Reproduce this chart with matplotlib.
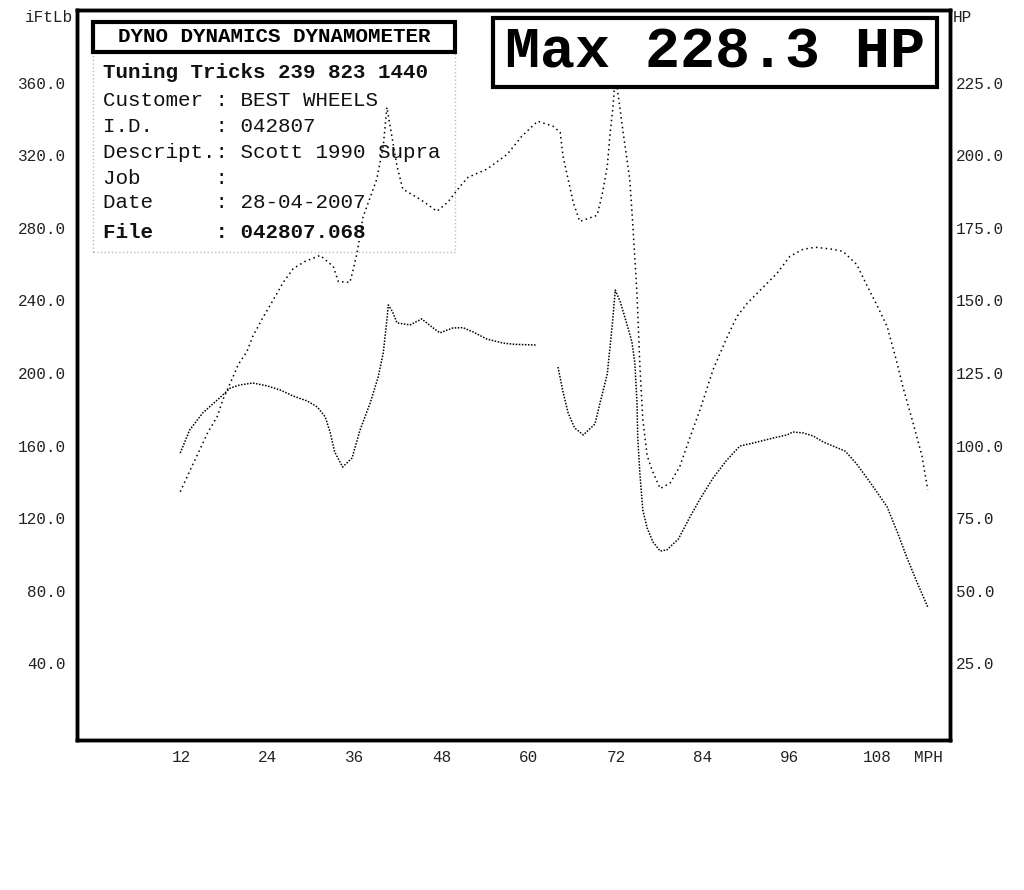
import numpy as np
import matplotlib
matplotlib.use("Agg")
import matplotlib.pyplot as plt
from matplotlib.patches import Rectangle

# ---- data ----
# torque curve (left axis, lb-ft); NaN marks the gap in the trace
torque_mph = [11.9, 13.2, 15.0, 17.0, 18.8, 20.1, 21.9, 23.9, 25.7, 27.5, 29.4, 30.8,
              31.9, 32.6, 33.2, 34.3, 35.6, 36.7, 38.1, 39.2, 39.9, 40.4, 40.6, 41.2,
              41.8, 43.6, 45.2, 46.6, 47.7, 49.5, 50.9, 52.3, 54.2, 56.4, 58.0, 61.1,
              62.5,
              64.0, 64.7, 65.4, 66.3, 67.5, 69.1, 69.8, 70.8, 71.5, 71.9, 72.6, 73.5,
              74.2, 74.6, 74.9, 75.0, 75.3, 75.7, 76.3, 77.1, 78.1, 79.0, 80.6, 82.2,
              83.6, 85.4, 87.3, 89.1, 90.9, 93.7, 95.6, 96.4, 97.8, 99.2, 100.6, 101.9,
              103.6, 105.2, 106.6, 108.0, 109.4, 110.8, 112.1, 113.5, 115.0]
torque_lbft = [155.9, 168.6, 178.0, 185.1, 191.7, 193.4, 194.5, 192.9, 190.6, 187.3, 184.6, 181.3,
               175.8, 167.0, 156.5, 148.2, 153.2, 168.6, 183.5, 197.8, 211.0, 229.2, 237.5, 233.6,
               227.6, 226.5, 229.8, 225.4, 222.1, 224.8, 225.0, 222.6, 218.7, 216.5, 215.8, 215.4,
               np.nan,
               203.3, 189.5, 178.0, 169.7, 165.9, 171.9, 183.5, 199.5, 227.0, 245.7, 239.1, 227.0,
               217.1, 205.5, 183.5, 164.2, 144.4, 124.5, 114.6, 106.9, 101.9, 102.5, 108.5, 120.7,
               130.6, 142.2, 152.1, 159.8, 161.4, 164.2, 165.9, 167.5, 167.0, 165.3, 162.0, 159.8,
               157.0, 149.9, 142.2, 134.4, 126.2, 112.4, 98.6, 84.9, 71.1]

# power curve (right axis, HP)
hp_mph = [11.9, 13.5, 14.6, 15.7, 17.0, 17.8, 19.2, 19.9, 21.1, 21.9, 23.3, 24.6,
          26.1, 27.5, 29.1, 31.2, 33.0, 33.7, 35.3, 35.7, 36.3, 37.1, 39.0, 39.9,
          40.4, 41.8, 42.6, 45.0, 47.3, 48.8, 50.5, 51.6, 54.2, 57.0, 59.0, 61.2,
          63.3, 64.3, 64.7, 65.4, 66.1, 67.0, 69.4, 70.1, 70.8, 71.2, 71.6, 71.9,
          73.0, 73.9, 74.3, 74.9, 75.3, 75.7, 76.3, 77.0, 78.1, 79.5, 80.8, 82.2,
          83.6, 85.4, 87.3, 88.7, 90.1, 94.2, 96.0, 97.8, 99.5, 101.9, 103.3, 105.2,
          106.6, 108.0, 109.4, 110.5, 111.6, 113.0, 114.2, 115.0]
hp_val = [84.1, 92.8, 98.6, 104.5, 110.0, 115.9, 123.8, 127.9, 132.4, 137.6, 144.1, 149.6,
          156.2, 161.0, 163.4, 165.5, 161.7, 156.5, 156.2, 160.0, 166.5, 178.6, 191.7, 203.1,
          216.5, 196.2, 188.3, 184.8, 180.7, 183.8, 189.3, 192.4, 195.2, 200.3, 206.5, 211.7,
          210.0, 207.9, 199.6, 191.7, 183.8, 177.2, 179.3, 186.5, 196.2, 207.9, 216.9, 228.3,
          207.6, 191.7, 176.9, 152.1, 127.2, 109.0, 96.5, 91.4, 85.2, 87.2, 92.8, 102.8,
          112.4, 126.2, 137.2, 144.5, 149.0, 159.3, 165.2, 167.6, 168.3, 167.6, 166.9, 162.4,
          155.2, 148.3, 141.0, 131.0, 120.0, 107.6, 96.5, 84.8]

mph_ticks = [12, 24, 36, 48, 60, 72, 84, 96, 108]
lbft_ticks = [40, 80, 120, 160, 200, 240, 280, 320, 360]
hp_ticks = [25, 50, 75, 100, 125, 150, 175, 200, 225]

info_lines = [
    ("Tuning Tricks 239 823 1440", "bold"),
    ("Customer : BEST WHEELS", "normal"),
    ("I.D.     : 042807", "normal"),
    ("Descript.: Scott 1990 Supra", "normal"),
    ("Job      :", "normal"),
    ("Date     : 28-04-2007", "normal"),
    ("File     : 042807.068", "bold"),
]
info_y = [72, 101, 126, 153, 178, 203, 233]

MONO = "Liberation Mono"
W, H = 1024, 890


def fx(px):
    return px / W


def fy(py):
    return 1 - py / H


fig = plt.figure(figsize=(10.24, 8.9), dpi=100)
fig.patch.set_facecolor("white")
ax = fig.add_axes([fx(77), fy(740), 873 / W, 730 / H])
ax2 = ax.twinx()

ax.plot(torque_mph, torque_lbft, color="black", lw=1.1, linestyle=(0, (1, 1)))
ax2.plot(hp_mph, hp_val, color="black", lw=1.1, linestyle=(0, (1, 2.2)))

ax.set_xlim(-2.34, 118.07)
ax.set_ylim(-2.2, 400)
ax2.set_ylim(-1.38, 250)

ax.set_xticks(mph_ticks)
ax.set_xticklabels([str(v) for v in mph_ticks])
ax.set_yticks(lbft_ticks)
ax.set_yticklabels([f"{v:.1f}" for v in lbft_ticks])
ax2.set_yticks(hp_ticks)
ax2.set_yticklabels([f"{v:.1f}" for v in hp_ticks])

ax.tick_params(axis="y", length=0, pad=8, labelsize=11.5, labelcolor="#222222")
ax.tick_params(axis="x", length=0, pad=7, labelsize=11.5, labelcolor="#222222")
ax2.tick_params(axis="y", length=0, pad=4, labelsize=11.5, labelcolor="#222222")
for lab in ax.get_xticklabels() + ax.get_yticklabels() + ax2.get_yticklabels():
    lab.set_fontfamily(MONO)

for a in (ax, ax2):
    for s in a.spines.values():
        s.set_linewidth(2.5)
        s.set_color("black")

# axis captions
fig.text(fx(73), fy(18), "iFtLb", ha="right", va="center", fontsize=11.5,
         family=MONO, color="#222222")
fig.text(fx(953), fy(18), "HP", ha="left", va="center", fontsize=11.5,
         family=MONO, color="#222222")
fig.text(fx(928), fy(757), "MPH", ha="center", va="center", fontsize=11.5,
         family=MONO, color="#222222")

# info block
fig.add_artist(Rectangle((fx(93), fy(252)), 362 / W, 200 / H, transform=fig.transFigure,
                         facecolor="none", edgecolor="#bbbbbb", lw=1, linestyle=":"))
fig.add_artist(Rectangle((fx(93), fy(52)), 362 / W, 30 / H, transform=fig.transFigure,
                         facecolor="white", edgecolor="black", lw=3))
fig.text(fx(274), fy(37), "DYNO DYNAMICS DYNAMOMETER", ha="center", va="center",
         fontsize=15, family=MONO, fontweight="bold")
for (txt, wt), y in zip(info_lines, info_y):
    fig.text(fx(103), fy(y), txt, ha="left", va="center", fontsize=15,
             family=MONO, fontweight=wt, color="#111111")

# max power box
fig.add_artist(Rectangle((fx(493), fy(87)), 444 / W, 69 / H, transform=fig.transFigure,
                         facecolor="white", edgecolor="black", lw=3))
fig.text(fx(715), fy(53), "Max 228.3 HP", ha="center", va="center", fontsize=42,
         family=MONO, fontweight="bold")

fig.savefig("out.png", dpi=100)
